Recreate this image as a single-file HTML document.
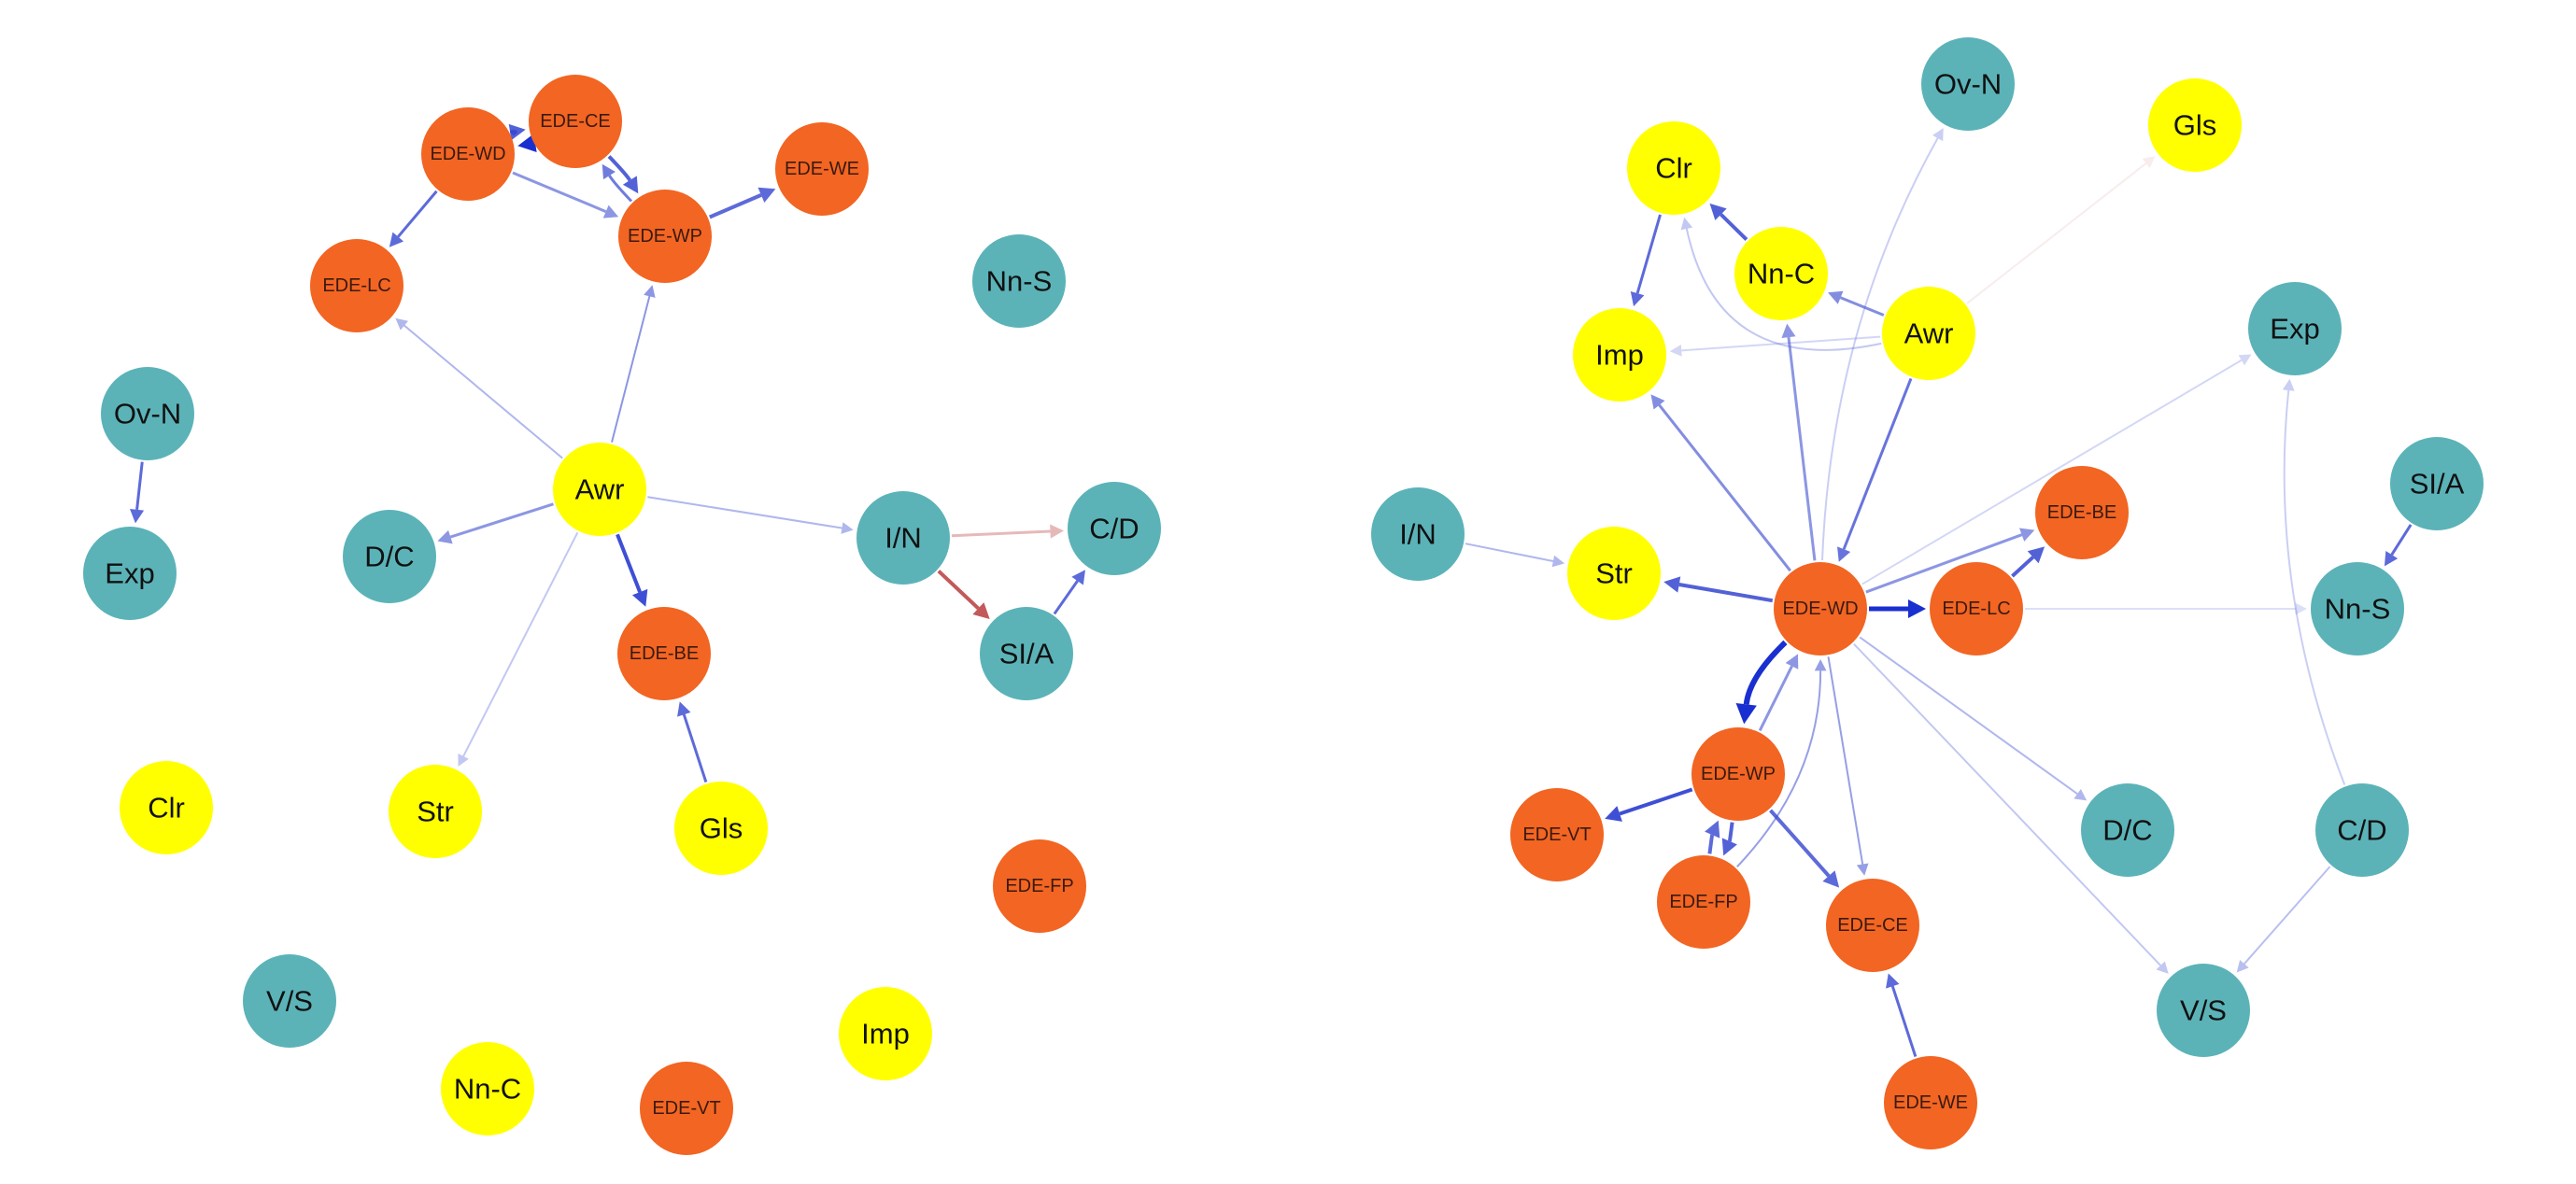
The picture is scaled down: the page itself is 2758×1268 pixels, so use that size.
<!DOCTYPE html>
<html><head><meta charset="utf-8"><style>
html,body{margin:0;padding:0;background:#fff;width:2758px;height:1268px;overflow:hidden}
svg{display:block}
text{font-family:"Liberation Sans",Arial,sans-serif;fill:#111;text-anchor:middle;dominant-baseline:central}
.b{font-size:31px}.s{font-size:20px;fill:#3a1a10}
</style></head><body>
<svg id="s" width="2758" height="1268" viewBox="0 0 2758 1268" xmlns="http://www.w3.org/2000/svg">
<g id="edges"></g>
<g id="nodes">
<circle cx="616" cy="130" r="50" fill="#F26522"/><text class="s" x="616" y="130">EDE-CE</text>
<circle cx="501" cy="165" r="50" fill="#F26522"/><text class="s" x="501" y="165">EDE-WD</text>
<circle cx="880" cy="181" r="50" fill="#F26522"/><text class="s" x="880" y="181">EDE-WE</text>
<circle cx="712" cy="253" r="50" fill="#F26522"/><text class="s" x="712" y="253">EDE-WP</text>
<circle cx="382" cy="306" r="50" fill="#F26522"/><text class="s" x="382" y="306">EDE-LC</text>
<circle cx="1091" cy="301" r="50" fill="#5BB3B8"/><text class="b" x="1091" y="301">Nn-S</text>
<circle cx="158" cy="443" r="50" fill="#5BB3B8"/><text class="b" x="158" y="443">Ov-N</text>
<circle cx="139" cy="614" r="50" fill="#5BB3B8"/><text class="b" x="139" y="614">Exp</text>
<circle cx="642" cy="524" r="50" fill="#FFFF00"/><text class="b" x="642" y="524">Awr</text>
<circle cx="417" cy="596" r="50" fill="#5BB3B8"/><text class="b" x="417" y="596">D/C</text>
<circle cx="967" cy="576" r="50" fill="#5BB3B8"/><text class="b" x="967" y="576">I/N</text>
<circle cx="1193" cy="566" r="50" fill="#5BB3B8"/><text class="b" x="1193" y="566">C/D</text>
<circle cx="1099" cy="700" r="50" fill="#5BB3B8"/><text class="b" x="1099" y="700">SI/A</text>
<circle cx="711" cy="700" r="50" fill="#F26522"/><text class="s" x="711" y="700">EDE-BE</text>
<circle cx="178" cy="865" r="50" fill="#FFFF00"/><text class="b" x="178" y="865">Clr</text>
<circle cx="466" cy="869" r="50" fill="#FFFF00"/><text class="b" x="466" y="869">Str</text>
<circle cx="772" cy="887" r="50" fill="#FFFF00"/><text class="b" x="772" y="887">Gls</text>
<circle cx="1113" cy="949" r="50" fill="#F26522"/><text class="s" x="1113" y="949">EDE-FP</text>
<circle cx="310" cy="1072" r="50" fill="#5BB3B8"/><text class="b" x="310" y="1072">V/S</text>
<circle cx="948" cy="1107" r="50" fill="#FFFF00"/><text class="b" x="948" y="1107">Imp</text>
<circle cx="522" cy="1166" r="50" fill="#FFFF00"/><text class="b" x="522" y="1166">Nn-C</text>
<circle cx="735" cy="1187" r="50" fill="#F26522"/><text class="s" x="735" y="1187">EDE-VT</text>
<circle cx="2107" cy="90" r="50" fill="#5BB3B8"/><text class="b" x="2107" y="90">Ov-N</text>
<circle cx="2350" cy="134" r="50" fill="#FFFF00"/><text class="b" x="2350" y="134">Gls</text>
<circle cx="1792" cy="180" r="50" fill="#FFFF00"/><text class="b" x="1792" y="180">Clr</text>
<circle cx="1907" cy="293" r="50" fill="#FFFF00"/><text class="b" x="1907" y="293">Nn-C</text>
<circle cx="2065" cy="357" r="50" fill="#FFFF00"/><text class="b" x="2065" y="357">Awr</text>
<circle cx="1734" cy="380" r="50" fill="#FFFF00"/><text class="b" x="1734" y="380">Imp</text>
<circle cx="2457" cy="352" r="50" fill="#5BB3B8"/><text class="b" x="2457" y="352">Exp</text>
<circle cx="2609" cy="518" r="50" fill="#5BB3B8"/><text class="b" x="2609" y="518">SI/A</text>
<circle cx="1518" cy="572" r="50" fill="#5BB3B8"/><text class="b" x="1518" y="572">I/N</text>
<circle cx="1728" cy="614" r="50" fill="#FFFF00"/><text class="b" x="1728" y="614">Str</text>
<circle cx="2229" cy="549" r="50" fill="#F26522"/><text class="s" x="2229" y="549">EDE-BE</text>
<circle cx="1949" cy="652" r="50" fill="#F26522"/><text class="s" x="1949" y="652">EDE-WD</text>
<circle cx="2116" cy="652" r="50" fill="#F26522"/><text class="s" x="2116" y="652">EDE-LC</text>
<circle cx="2524" cy="652" r="50" fill="#5BB3B8"/><text class="b" x="2524" y="652">Nn-S</text>
<circle cx="1861" cy="829" r="50" fill="#F26522"/><text class="s" x="1861" y="829">EDE-WP</text>
<circle cx="1667" cy="894" r="50" fill="#F26522"/><text class="s" x="1667" y="894">EDE-VT</text>
<circle cx="2278" cy="889" r="50" fill="#5BB3B8"/><text class="b" x="2278" y="889">D/C</text>
<circle cx="2529" cy="889" r="50" fill="#5BB3B8"/><text class="b" x="2529" y="889">C/D</text>
<circle cx="1824" cy="966" r="50" fill="#F26522"/><text class="s" x="1824" y="966">EDE-FP</text>
<circle cx="2005" cy="991" r="50" fill="#F26522"/><text class="s" x="2005" y="991">EDE-CE</text>
<circle cx="2359" cy="1082" r="50" fill="#5BB3B8"/><text class="b" x="2359" y="1082">V/S</text>
<circle cx="2067" cy="1181" r="50" fill="#F26522"/><text class="s" x="2067" y="1181">EDE-WE</text>
</g>
</svg>
<script>
var E=[
[616,130,501,165,5,'#1a2fd0',1,0,-8],
[501,165,616,130,4,'#3545d0',0.85,0,-8],
[501,165,712,253,3,'#4050d0',0.6,0,0],
[616,130,712,253,4,'#3545d0',0.85,0,-8],
[712,253,616,130,3,'#4050d0',0.75,0,-8],
[712,253,880,181,4,'#3545d0',0.8,0,0],
[501,165,382,306,3,'#3545d0',0.8,0,0],
[642,524,382,306,2,'#5060d8',0.45,0,0],
[642,524,712,253,2,'#4050d0',0.6,0,0],
[642,524,417,596,3,'#4050d0',0.6,0,0],
[642,524,967,576,2,'#5060d8',0.45,0,0],
[642,524,711,700,4,'#2a3cd0',0.9,0,0],
[642,524,466,869,2,'#5060d8',0.35,0,0],
[772,887,711,700,3,'#3545d0',0.8,0,0],
[158,443,139,614,3,'#3545d0',0.8,0,0],
[967,576,1193,566,3,'#c05050',0.4,0,0],
[967,576,1099,700,4,'#b83c3c',0.85,0,0],
[1099,700,1193,566,3,'#3545d0',0.8,0,0],
[1907,293,1792,180,4,'#3545d0',0.85,0,0],
[1792,180,1734,380,3,'#3545d0',0.8,0,0],
[2065,357,1907,293,3,'#4050d0',0.65,0,0],
[2065,357,1734,380,2,'#5060d8',0.25,0,0],
[2065,357,1792,180,2,'#5060d8',0.35,-0.5,0],
[2065,357,2350,134,2,'#d08080',0.15,0,0],
[2065,357,1949,652,3,'#3545d0',0.75,0,0],
[1949,652,1734,380,3,'#4050d0',0.65,0,0],
[1949,652,1907,293,3,'#4050d0',0.6,0,0],
[1949,652,2107,90,2,'#5060d8',0.3,-0.12,0],
[1949,652,1728,614,4,'#3545d0',0.85,0,0],
[1518,572,1728,614,2,'#5060d8',0.45,0,0],
[1949,652,2116,652,5,'#1a2fd0',1,0,0],
[2116,652,2229,549,4,'#3545d0',0.85,0,0],
[1949,652,2229,549,3,'#4050d0',0.6,0,0],
[1949,652,2457,352,2,'#5060d8',0.25,0,0],
[2116,652,2524,652,2,'#5060d8',0.2,0,0],
[2609,518,2524,652,3,'#3545d0',0.8,0,0],
[1949,652,1861,829,6,'#1a2fd0',1,0.18,0],
[1861,829,1667,894,4,'#2a3cd0',0.9,0,0],
[1861,829,1824,966,4,'#3545d0',0.85,0,-10],
[1824,966,1861,829,4,'#3545d0',0.8,0,-10],
[1824,966,1949,652,2,'#4050d0',0.55,0.2,0],
[1861,829,1949,652,3,'#4050d0',0.6,0,0],
[1861,829,2005,991,4,'#3545d0',0.8,0,0],
[1949,652,2005,991,2,'#4050d0',0.55,0,0],
[1949,652,2278,889,2,'#5060d8',0.45,0,0],
[1949,652,2359,1082,2,'#5060d8',0.35,0,0],
[2529,889,2359,1082,2,'#5060d8',0.4,0,0],
[2529,889,2457,352,2,'#5060d8',0.3,-0.12,0],
[2067,1181,2005,991,3,'#3545d0',0.8,0,0]
];
var g=document.getElementById('edges'),NS='http://www.w3.org/2000/svg',R=52;
E.forEach(function(e){
 var x1=e[0],y1=e[1],x2=e[2],y2=e[3],w=e[4],c=e[5],o=e[6],k=e[7],off=e[8]||0;
 var dx=x2-x1,dy=y2-y1,L=Math.hypot(dx,dy);
 var px=-dy/L*off,py=dx/L*off;
 var mx=(x1+x2)/2-dy*k+px,my=(y1+y2)/2+dx*k+py;
 var sx=mx-x1,sy=my-y1,sl=Math.hypot(sx,sy);
 var ex=x2-mx,ey=y2-my,el=Math.hypot(ex,ey);
 var ax=x1+sx/sl*R,ay=y1+sy/sl*R;
 var ux=ex/el,uy=ey/el;
 var tx=x2-ux*(R+2),ty=y2-uy*(R+2);
 var hl=8+w*2.2,hw=4+w*1.2;
 var bx=tx-ux*hl,by=ty-uy*hl;
 var p=document.createElementNS(NS,'path');
 p.setAttribute('d','M'+ax+','+ay+' Q'+mx+','+my+' '+bx+','+by);
 p.setAttribute('fill','none');p.setAttribute('stroke',c);p.setAttribute('stroke-width',w);p.setAttribute('opacity',o);
 g.appendChild(p);
 var h=document.createElementNS(NS,'polygon');
 h.setAttribute('points',tx+','+ty+' '+(bx-uy*hw)+','+(by+ux*hw)+' '+(bx+uy*hw)+','+(by-ux*hw));
 h.setAttribute('fill',c);h.setAttribute('opacity',o);
 g.appendChild(h);
});
</script>
</body></html>
